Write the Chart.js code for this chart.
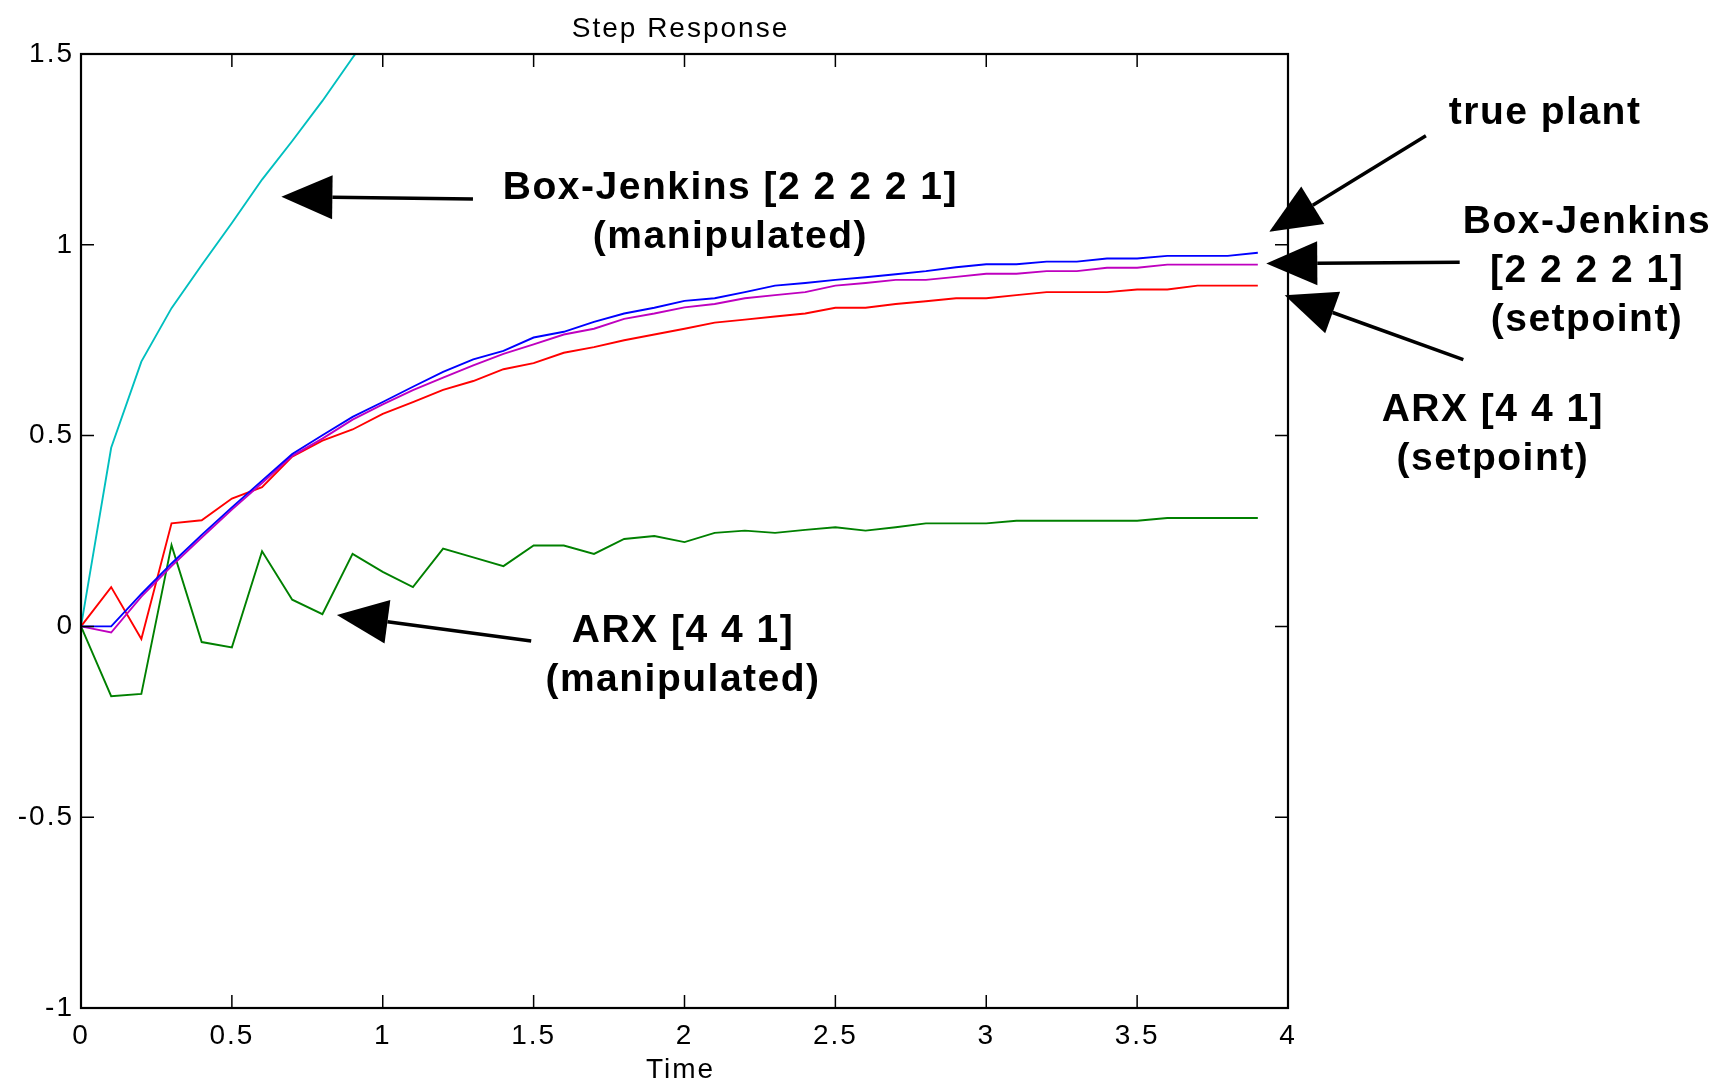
<!DOCTYPE html>
<html>
<head>
<meta charset="utf-8">
<title>Step Response</title>
<script src="https://cdn.jsdelivr.net/npm/chart.js@4.4.1/dist/chart.umd.min.js"></script>
<style>
  html, body { margin: 0; padding: 0; background: #fff; }
  #wrap { width: 1728px; height: 1083px; position: relative; }
</style>
</head>
<body>
<div id="wrap"><canvas id="stepChart"></canvas></div>
<script>
// sample times (s)
let timeSteps = [0, 0.1, 0.2, 0.3, 0.4, 0.5, 0.6, 0.7, 0.8, 0.9,
                 1.0, 1.1, 1.2, 1.3, 1.4, 1.5, 1.6, 1.7, 1.8, 1.9,
                 2.0, 2.1, 2.2, 2.3, 2.4, 2.5, 2.6, 2.7, 2.8, 2.9,
                 3.0, 3.1, 3.2, 3.3, 3.4, 3.5, 3.6, 3.7, 3.8, 3.9];

// step responses
let truePlant = [0, 0, 0.085, 0.165, 0.240, 0.312, 0.382, 0.452, 0.501, 0.549,
                 0.588, 0.628, 0.667, 0.700, 0.722, 0.757, 0.772, 0.798, 0.820, 0.835,
                 0.853, 0.860, 0.876, 0.893, 0.900, 0.908, 0.915, 0.923, 0.931, 0.941,
                 0.949, 0.949, 0.956, 0.956, 0.964, 0.964, 0.971, 0.971, 0.971, 0.979];
let bjSetpoint = [0, -0.016, 0.078, 0.158, 0.233, 0.306, 0.376, 0.447, 0.492, 0.542,
                  0.582, 0.619, 0.652, 0.684, 0.714, 0.739, 0.765, 0.780, 0.806, 0.820,
                  0.836, 0.845, 0.860, 0.868, 0.876, 0.893, 0.900, 0.908, 0.908, 0.916,
                  0.924, 0.924, 0.931, 0.931, 0.940, 0.940, 0.948, 0.948, 0.948, 0.948];
let arxSetpoint = [0, 0.103, -0.033, 0.270, 0.278, 0.335, 0.365, 0.445, 0.487, 0.516,
                   0.557, 0.588, 0.620, 0.643, 0.674, 0.690, 0.717, 0.732, 0.750, 0.765,
                   0.780, 0.796, 0.804, 0.812, 0.820, 0.835, 0.835, 0.845, 0.852, 0.860,
                   0.860, 0.868, 0.876, 0.876, 0.876, 0.883, 0.883, 0.893, 0.893, 0.893];
let arxManipulated = [0, -0.183, -0.177, 0.213, -0.041, -0.055, 0.197, 0.070, 0.032, 0.190,
                      0.143, 0.103, 0.204, 0.181, 0.158, 0.212, 0.212, 0.190, 0.229, 0.237,
                      0.221, 0.245, 0.251, 0.245, 0.253, 0.260, 0.251, 0.260, 0.270, 0.270,
                      0.270, 0.277, 0.277, 0.277, 0.277, 0.277, 0.284, 0.284, 0.284, 0.284];
// runs off the top of the axes after ~1 s
let bjManipulated = [0, 0.468, 0.694, 0.834, 0.947, 1.057, 1.171, 1.272, 1.377, 1.490, 1.600];

let xTicks = [0, 0.5, 1, 1.5, 2, 2.5, 3, 3.5, 4];
let yTicks = [-1, -0.5, 0, 0.5, 1, 1.5];

// callouts: text lines centred at `at`, arrow from `tail` to `tip` (data units)
let callouts = [
    { lines: ['Box-Jenkins [2 2 2 2 1]', '(manipulated)'], at: [2.152, 1.149], tail: [1.299, 1.120], tip: [0.664, 1.126] },
    { lines: ['ARX [4 4 1]', '(manipulated)'], at: [1.995, -0.013], tail: [1.492, -0.038], tip: [0.848, 0.030] },
    { lines: ['true plant'], at: [4.852, 1.345], tail: [4.457, 1.286], tip: [3.938, 1.034] },
    { lines: ['Box-Jenkins', '[2 2 2 2 1]', '(setpoint)'], at: [4.991, 1.060], tail: [4.569, 0.954], tip: [3.928, 0.951] },
    { lines: ['ARX [4 4 1]', '(setpoint)'], at: [4.679, 0.566], tail: [4.581, 0.699], tip: [3.989, 0.868] }
];

let FONT = '"Liberation Sans", Arial, Helvetica, sans-serif';

toPoints = (values) => values.map((v, i) => ({ x: timeSteps[i], y: v }));

let series = [
    { data: truePlant, color: '#0000ff' },
    { data: bjSetpoint, color: '#bf00bf' },
    { data: arxSetpoint, color: '#ff0000' },
    { data: arxManipulated, color: '#008000' },
    { data: bjManipulated, color: '#00bfbf' }
];

drawArrow = (ctx, x0, y0, x1, y1) => {
    let headLen = 51, halfW = 22;
    let ang = Math.atan2(y1 - y0, x1 - x0);
    let bx = x1 - headLen * Math.cos(ang);
    let by = y1 - headLen * Math.sin(ang);
    ctx.beginPath();
    ctx.moveTo(x0, y0);
    ctx.lineTo(bx, by);
    ctx.lineWidth = 3.5;
    ctx.stroke();
    ctx.beginPath();
    ctx.moveTo(x1, y1);
    ctx.lineTo(bx + halfW * Math.sin(ang), by - halfW * Math.cos(ang));
    ctx.lineTo(bx - halfW * Math.sin(ang), by + halfW * Math.cos(ang));
    ctx.closePath();
    ctx.fill();
};

// frame, inward ticks, title, axis label and callouts
let decorations = {
    id: 'decorations',
    beforeDraw: (chart) => {
        chart.ctx.letterSpacing = '2px';
    },
    afterDraw: (chart) => {
        let ctx = chart.ctx;
        let area = chart.chartArea;
        let xs = chart.scales.x, ys = chart.scales.y;
        let tick = 13;
        ctx.save();
        ctx.strokeStyle = '#000';
        ctx.fillStyle = '#000';

        ctx.lineWidth = 1.5;
        ctx.beginPath();
        xTicks.forEach(v => {
            let px = xs.getPixelForValue(v);
            ctx.moveTo(px, area.bottom); ctx.lineTo(px, area.bottom - tick);
            ctx.moveTo(px, area.top); ctx.lineTo(px, area.top + tick);
        });
        yTicks.forEach(v => {
            let py = ys.getPixelForValue(v);
            ctx.moveTo(area.left, py); ctx.lineTo(area.left + tick, py);
            ctx.moveTo(area.right, py); ctx.lineTo(area.right - tick, py);
        });
        ctx.stroke();

        ctx.lineWidth = 2.2;
        ctx.strokeRect(area.left, area.top, area.right - area.left, area.bottom - area.top);

        ctx.textAlign = 'center';
        ctx.textBaseline = 'alphabetic';
        ctx.letterSpacing = '2px';
        ctx.font = '28px ' + FONT;
        ctx.fillText('Step Response', (area.left + area.right) / 2 - 4, 37);
        ctx.fillText('Time', (area.left + area.right) / 2 - 4, 1078);

        ctx.font = 'bold 39px ' + FONT;
        ctx.letterSpacing = '1.5px';
        ctx.textBaseline = 'middle';
        callouts.forEach(c => {
            let cx = xs.getPixelForValue(c.at[0]);
            let cy = ys.getPixelForValue(c.at[1]);
            c.lines.forEach((line, i) => ctx.fillText(line, cx, cy + i * 49));
            drawArrow(ctx,
                xs.getPixelForValue(c.tail[0]), ys.getPixelForValue(c.tail[1]),
                xs.getPixelForValue(c.tip[0]), ys.getPixelForValue(c.tip[1]));
        });
        ctx.restore();
    }
};

let ctx = document.getElementById('stepChart').getContext('2d');
let stepChart = new Chart(ctx, {
    type: 'line',
    data: {
        datasets: series.map(s => ({
            data: toPoints(s.data),
            borderColor: s.color,
            borderWidth: 1.9,
            pointRadius: 0,
            tension: 0,
            fill: false
        }))
    },
    options: {
        responsive: true,
        maintainAspectRatio: false,
        devicePixelRatio: 1,
        animation: false,
        layout: { padding: { top: 54, right: 440, left: 0, bottom: 0 } },
        plugins: {
            legend: { display: false },
            title: { display: false },
            tooltip: { enabled: false }
        },
        scales: {
            x: {
                type: 'linear',
                min: 0,
                max: 4,
                afterFit: (scale) => { scale.height = 75; },
                afterBuildTicks: (scale) => { scale.ticks = xTicks.map(v => ({ value: v })); },
                grid: { display: false, drawTicks: false },
                border: { display: false },
                ticks: {
                    color: '#000',
                    padding: 11,
                    maxRotation: 0,
                    font: { family: FONT, size: 28 },
                    callback: (v) => String(v)
                }
            },
            y: {
                type: 'linear',
                min: -1,
                max: 1.5,
                afterFit: (scale) => { scale.width = 81; },
                afterBuildTicks: (scale) => { scale.ticks = yTicks.map(v => ({ value: v })); },
                grid: { display: false, drawTicks: false },
                border: { display: false },
                ticks: {
                    color: '#000',
                    padding: 7,
                    font: { family: FONT, size: 28 },
                    callback: (v) => String(v)
                }
            }
        }
    },
    plugins: [decorations]
});
</script>
</body>
</html>
